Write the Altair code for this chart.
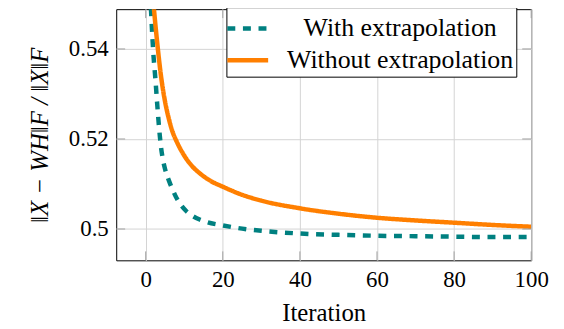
import altair as alt
import pandas as pd

series_names = ["With extrapolation", "Without extrapolation"]

iter_with = [1, 1.5, 2, 2.5, 3, 3.5, 4, 4.5, 5, 6, 7, 8, 9, 10.5, 12, 14, 16, 20, 24, 30,
             40, 50, 60, 70, 80, 90, 100]
err_with = [0.556, 0.5465, 0.5388, 0.5335, 0.5276, 0.5222, 0.5180, 0.5153, 0.5134, 0.5108,
            0.5087, 0.5069, 0.5055, 0.5040, 0.5030, 0.5021, 0.5015, 0.5008, 0.5002, 0.4996,
            0.4990, 0.4987, 0.4985, 0.4984, 0.4983, 0.4982, 0.4982]

iter_without = [1, 2, 3, 4, 5, 6, 7, 8, 10, 12, 14, 17, 20, 25, 30, 40, 50, 60, 70, 80, 90, 100]
err_without = [0.562, 0.5503, 0.5413, 0.5338, 0.5284, 0.5245, 0.5215, 0.5195, 0.5163, 0.5140,
               0.5124, 0.5106, 0.5094, 0.5076, 0.5063, 0.5046, 0.5034, 0.5025, 0.5019, 0.5014,
               0.5009, 0.5005]

x_ticks = [0, 20, 40, 60, 80, 100]
y_ticks = [0.5, 0.52, 0.54]

colors = ["#008080", "#ff7f00"]
dashes = [[8, 7.7], [1, 0]]

W, H = 418, 253
FONT = "Times New Roman"

df = pd.concat([
    pd.DataFrame({"iter": iter_with, "err": err_with, "series": series_names[0]}),
    pd.DataFrame({"iter": iter_without, "err": err_without, "series": series_names[1]}),
])

xs = alt.Scale(domain=[-7.65, 100], nice=False, zero=False)
ys = alt.Scale(domain=[0.49304, 0.54884], nice=False, zero=False)

x_axis = alt.Axis(values=x_ticks, title="Iteration", format="d", labelFlush=False,
                  labelFont=FONT, titleFont=FONT, labelFontSize=23, titleFontSize=25,
                  titlePadding=10)
y_axis = alt.Axis(values=y_ticks, title="‖X − WH‖F / ‖X‖F", labelFlush=False,
                  labelFont=FONT, titleFont=FONT, labelFontSize=23, titleFontSize=25,
                  titleFontStyle="italic", titlePadding=16,
                  labelExpr="datum.value == 0.5 ? '0.5' : format(datum.value, '.2f')")

lines = alt.Chart(df).mark_line(strokeWidth=4.5, clip=True, interpolate="monotone").encode(
    x=alt.X("iter:Q", scale=xs, axis=x_axis, title="Iteration"),
    y=alt.Y("err:Q", scale=ys, axis=y_axis, title="‖X − WH‖F / ‖X‖F"),
    color=alt.Color("series:N", scale=alt.Scale(domain=series_names, range=colors),
                    legend=alt.Legend(title=None, orient="none", legendX=111, legendY=-2,
                                      symbolType="M-1.3,0H1.3", symbolSize=1000,
                                      symbolStrokeWidth=4.5,
                                      labelFont=FONT, labelFontSize=26, labelColor="black",
                                      labelLimit=400, labelAlign="center", labelOffset=135,
                                      strokeColor="black", fillColor="white", padding=3,
                                      rowPadding=0)),
    strokeDash=alt.StrokeDash("series:N", scale=alt.Scale(domain=series_names, range=dashes),
                              legend=None),
    order=alt.Order("iter:Q"),
)

xt = pd.DataFrame({"t": x_ticks})
yt = pd.DataFrame({"t": y_ticks})
tick_color = "#a0a0a0"
xb = alt.Chart(xt).mark_rule(color=tick_color, strokeWidth=1).encode(
    x=alt.X("t:Q", scale=xs, axis=x_axis, title="Iteration"), y=alt.value(H), y2=alt.value(H - 9))
xtop = alt.Chart(xt).mark_rule(color=tick_color, strokeWidth=1).encode(
    x=alt.X("t:Q", scale=xs, axis=x_axis, title="Iteration"), y=alt.value(0), y2=alt.value(9))
yl = alt.Chart(yt).mark_rule(color=tick_color, strokeWidth=1).encode(
    y=alt.Y("t:Q", scale=ys, axis=y_axis, title="‖X − WH‖F / ‖X‖F"), x=alt.value(0), x2=alt.value(9))
yr = alt.Chart(yt).mark_rule(color=tick_color, strokeWidth=1).encode(
    y=alt.Y("t:Q", scale=ys, axis=y_axis, title="‖X − WH‖F / ‖X‖F"), x=alt.value(W), x2=alt.value(W - 9))

chart = alt.layer(lines, xb, xtop, yl, yr).properties(
    width=W, height=H,
    autosize=alt.AutoSizeParams(type="none"),
    padding={"left": 109, "top": 0, "right": 25, "bottom": 68},
).configure(
    font=FONT,
    style={"guide-label": {"font": FONT}, "guide-title": {"font": FONT}},
).configure_view(
    stroke="black", strokeWidth=1
).configure_axis(
    domain=False, ticks=False, grid=True, gridColor="#d4d4d4", gridWidth=1,
    labelColor="black", labelPadding=8, labelFont=FONT, titleFont=FONT,
    titleColor="black", titleFontWeight="normal",
).configure_axisX(
    labelFont=FONT, titleFont=FONT,
).configure_axisY(
    labelFont=FONT, titleFont=FONT,
)

chart.save("out.html", embed_options={"renderer": "svg", "actions": False})
